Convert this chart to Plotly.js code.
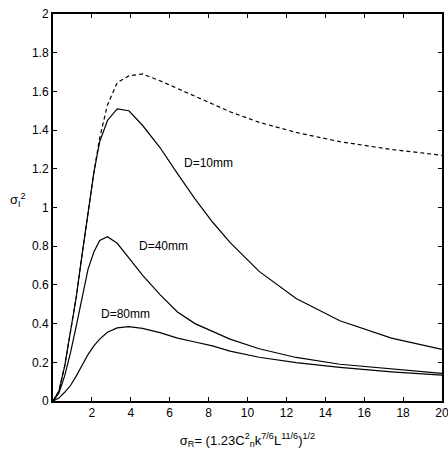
<!DOCTYPE html>
<html>
<head>
<meta charset="utf-8">
<script src="https://cdn.plot.ly/plotly-3.0.1.min.js"></script>
<style>html,body{margin:0;padding:0;background:#fff;}#chart{width:448px;height:455px;}</style>
</head>
<body>
<div id="chart"></div>
<script>
// sigma_R values (x)
const sigmaR = [0, 0.3, 0.6, 0.9, 1.2, 1.5, 1.8, 2.1, 2.4, 2.8, 3.3, 3.9, 4.6, 5.5, 6.4, 7.3, 8.2, 9.1, 10.6, 12.5, 14.75, 17.4, 20];
// point receiver (no aperture), dashed
const pointRx = [0, 0.05, 0.18, 0.35, 0.54, 0.76, 0.98, 1.18, 1.36, 1.53, 1.645, 1.68, 1.69, 1.655, 1.615, 1.575, 1.535, 1.495, 1.44, 1.388, 1.34, 1.30, 1.27];
const d10 = [0, 0.05, 0.18, 0.35, 0.54, 0.76, 0.98, 1.18, 1.34, 1.45, 1.51, 1.50, 1.425, 1.31, 1.175, 1.045, 0.925, 0.82, 0.67, 0.53, 0.415, 0.325, 0.267];
const d40 = [0, 0.04, 0.13, 0.25, 0.39, 0.54, 0.68, 0.77, 0.83, 0.849, 0.815, 0.74, 0.65, 0.55, 0.46, 0.40, 0.36, 0.32, 0.27, 0.225, 0.19, 0.165, 0.143];
const d80 = [0, 0.015, 0.045, 0.08, 0.13, 0.185, 0.24, 0.285, 0.32, 0.355, 0.378, 0.384, 0.375, 0.353, 0.325, 0.305, 0.285, 0.258, 0.226, 0.198, 0.174, 0.151, 0.134];

const xTicks = [2, 4, 6, 8, 10, 12, 14, 16, 18, 20];
const yTicks = [0, 0.2, 0.4, 0.6, 0.8, 1, 1.2, 1.4, 1.6, 1.8, 2];

const labels = [
  {text: 'D=10mm', x: 7.97, y: 1.23},
  {text: 'D=40mm', x: 5.66, y: 0.80},
  {text: 'D=80mm', x: 3.75, y: 0.45}
];

const lineStyle = {color: '#000', width: 1.2};
const traces = [
  {x: sigmaR, y: pointRx, mode: 'lines', line: {color: '#000', width: 1.2, dash: '4px,3px'}},
  {x: sigmaR, y: d10, mode: 'lines', line: lineStyle},
  {x: sigmaR, y: d40, mode: 'lines', line: lineStyle},
  {x: sigmaR, y: d80, mode: 'lines', line: lineStyle}
];

const font = {family: 'Liberation Sans, Arial, sans-serif', size: 12, color: '#000'};
const titleFont = {family: 'Liberation Sans, Arial, sans-serif', size: 13, color: '#000'};

const annotations = labels.map(l => ({
  text: l.text, x: l.x, y: l.y, xref: 'x', yref: 'y', showarrow: false, font: font
}));
annotations.push({
  text: 'σ<sub>I</sub><sup>2</sup>', xref: 'paper', yref: 'paper',
  x: -0.09, y: 0.52, xanchor: 'center', yanchor: 'middle', showarrow: false, font: titleFont
});

const layout = {
  width: 448, height: 455,
  margin: {l: 53, r: 6, t: 14, b: 54},
  paper_bgcolor: '#fff', plot_bgcolor: '#fff',
  showlegend: false,
  font: font,
  xaxis: {
    range: [0, 20], tickvals: xTicks, ticktext: xTicks.map(String),
    ticks: 'inside', ticklen: 4, tickwidth: 1, tickcolor: '#000',
    showline: true, linecolor: '#000', linewidth: 2, mirror: 'ticks',
    showgrid: false, zeroline: false, tickfont: font, ticklabeloverflow: 'allow',
    title: {text: 'σ<sub>R</sub>= (1.23C<sup>2</sup><sub>n</sub>k<sup>7/6</sup>L<sup>11/6</sup>)<sup>1/2</sup>', font: titleFont, standoff: 16}
  },
  yaxis: {
    range: [0, 2], tickvals: yTicks, ticktext: yTicks.map(String),
    ticks: 'inside', ticklen: 4, tickwidth: 1, tickcolor: '#000',
    showline: true, linecolor: '#000', linewidth: 2, mirror: 'ticks',
    showgrid: false, zeroline: false, tickfont: font
  },
  annotations: annotations
};

Plotly.newPlot('chart', traces, layout, {staticPlot: true, displayModeBar: false});
</script>
</body>
</html>
